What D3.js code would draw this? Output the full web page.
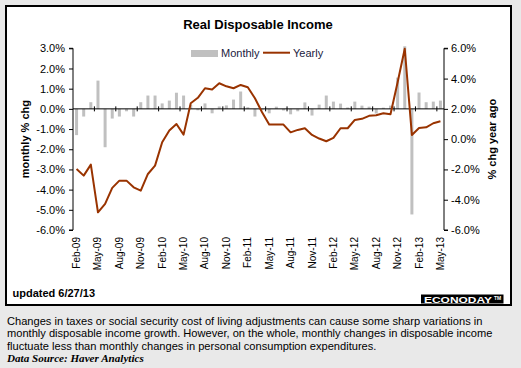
<!DOCTYPE html>
<html>
<head>
<meta charset="utf-8">
<script src="https://cdn.jsdelivr.net/npm/d3@7"></script>
<style>
  body { margin: 0; background: #e9e9e9; }
  svg { display: block; font-family: "Liberation Sans", Arial, sans-serif; }
</style>
</head>
<body>
<svg id="chart" width="521" height="368"></svg>
<script>
// months shown on the chart, Feb-09 .. May-13
const months = [
  "Feb-09","Mar-09","Apr-09","May-09","Jun-09","Jul-09","Aug-09","Sep-09","Oct-09","Nov-09","Dec-09","Jan-10",
  "Feb-10","Mar-10","Apr-10","May-10","Jun-10","Jul-10","Aug-10","Sep-10","Oct-10","Nov-10","Dec-10","Jan-11",
  "Feb-11","Mar-11","Apr-11","May-11","Jun-11","Jul-11","Aug-11","Sep-11","Oct-11","Nov-11","Dec-11","Jan-12",
  "Feb-12","Mar-12","Apr-12","May-12","Jun-12","Jul-12","Aug-12","Sep-12","Oct-12","Nov-12","Dec-12","Jan-13",
  "Feb-13","Mar-13","Apr-13","May-13"
];

// monthly % change (bars, left axis)
const monthly = [
  -1.30, -0.38, 0.33, 1.40, -1.90, -0.48, -0.38, -0.12, -0.38, 0.33, 0.66, 0.66,
  0.27, 0.41, 0.80, 0.66, 0.20, -0.07, 0.27, -0.22, 0.12, 0.17, 0.46, 0.86,
  0.08, -0.38, -0.05, -0.22, 0.11, -0.08, -0.27, -0.12, 0.32, -0.33, 0.21, 0.66,
  0.36, 0.26, 0.07, 0.36, 0.16, 0.11, -0.23, 0.06, 0.16, 1.55, 3.10, -5.23,
  0.81, 0.33, 0.36, 0.41
];

// % change year ago (line, right axis)
const yearly = [
  -1.97, -2.41, -1.68, -4.83, -4.28, -3.22, -2.74, -2.74, -3.18, -3.40, -2.30, -1.75,
  -0.20, 0.57, 1.00, 0.30, 2.37, 2.73, 3.36, 3.28, 3.69, 3.49, 3.36, 3.58,
  3.43, 2.70, 1.78, 0.96, 0.96, 0.96, 0.45, 0.61, 0.72, 0.28, 0.04, -0.14,
  0.08, 0.72, 0.72, 1.27, 1.34, 1.54, 1.58, 1.71, 1.64, 3.76, 5.97, 0.28,
  0.74, 0.78, 1.05, 1.18
];

const leftTicks = [3, 2, 1, 0, -1, -2, -3, -4, -5, -6];
const rightTicks = [6, 4, 2, 0, -2, -4, -6];
const labelMonths = months.filter((m, i) => i % 3 === 0);

const noteLines = [
  "Changes in taxes or social security cost of living adjustments can cause some sharp variations in",
  "monthly disposable income growth. However, on the whole, monthly changes in disposable income",
  "fluctuate less than monthly changes in personal consumption expenditures."
];

const barColor = "#c0c0c0";
const lineColor = "#993300";

const svg = d3.select("#chart");

// plot box
const pLeft = 73, pRight = 444, pTop = 48.3, pBottom = 230;

// white panel with black frame
svg.append("rect")
  .attr("x", 6).attr("y", 6).attr("width", 505).attr("height", 299)
  .attr("fill", "#fff").attr("stroke", "#000").attr("stroke-width", 2);

// scales
const x = d3.scaleBand().domain(months).range([pLeft, pRight])
  .paddingInner(0.58).paddingOuter(0.29);
const step = x.step();
const cx = d => x(d) + x.bandwidth() / 2;
const yL = d3.scaleLinear().domain([-6, 3]).range([pBottom, pTop]);
const yR = d3.scaleLinear().domain([-6, 6]).range([pBottom, pTop]);

// title
svg.append("text")
  .attr("x", 258).attr("y", 29)
  .attr("text-anchor", "middle")
  .attr("font-size", 13).attr("font-weight", "bold")
  .text("Real Disposable Income");

// bars
svg.append("g").selectAll("rect")
  .data(months)
  .join("rect")
  .attr("x", d => x(d))
  .attr("width", x.bandwidth())
  .attr("y", (d, i) => yL(Math.max(0, monthly[i])))
  .attr("height", (d, i) => Math.abs(yL(monthly[i]) - yL(0)))
  .attr("fill", barColor);

// zero line with cross ticks every 3 months
const xAxis = svg.append("g");
xAxis.append("line")
  .attr("x1", pLeft).attr("x2", pRight)
  .attr("y1", yL(0)).attr("y2", yL(0))
  .attr("stroke", "#000");
xAxis.selectAll("line.tk")
  .data(months.filter((m, i) => i > 0 && i % 3 === 0))
  .join("line")
  .attr("class", "tk")
  .attr("x1", d => x(d) + x.bandwidth() / 2 - step / 2)
  .attr("x2", d => x(d) + x.bandwidth() / 2 - step / 2)
  .attr("y1", yL(0) - 2.5).attr("y2", yL(0) + 2.5)
  .attr("stroke", "#000");

// month labels, rotated
svg.append("g").selectAll("text")
  .data(labelMonths)
  .join("text")
  .attr("transform", d => `translate(${cx(d)},237) rotate(-90)`)
  .attr("dy", "0.35em")
  .attr("text-anchor", "end")
  .attr("font-size", 10)
  .text(d => d);

// left axis
const axL = svg.append("g")
  .attr("transform", `translate(${pLeft},0)`)
  .call(d3.axisLeft(yL).tickValues(leftTicks).tickSize(4).tickPadding(4)
    .tickFormat(d => d.toFixed(1) + "%"));
axL.select(".domain").attr("d", `M-4,${pTop}H0V${pBottom}H-4`);
axL.selectAll("text").attr("font-size", 11).attr("font-family", null).attr("fill", "#000");

// right axis
const axR = svg.append("g")
  .attr("transform", `translate(${pRight},0)`)
  .call(d3.axisRight(yR).tickValues(rightTicks).tickSize(4).tickPadding(3)
    .tickFormat(d => d.toFixed(1) + "%"));
axR.select(".domain").attr("d", `M4,${pTop}H0V${pBottom}H4`);
axR.selectAll("text").attr("font-size", 11).attr("font-family", null).attr("fill", "#000");

// axis titles
svg.append("text")
  .attr("transform", `translate(29,${(pTop + pBottom) / 2}) rotate(-90)`)
  .attr("text-anchor", "middle")
  .attr("font-size", 11).attr("font-weight", "bold")
  .text("monthly % chg");
svg.append("text")
  .attr("transform", `translate(496,${(pTop + pBottom) / 2}) rotate(-90)`)
  .attr("text-anchor", "middle")
  .attr("font-size", 11).attr("font-weight", "bold")
  .text("% chg year ago");

// yearly line
const line = d3.line()
  .x((d, i) => cx(months[i]))
  .y(d => yR(d));
svg.append("path")
  .attr("d", line(yearly))
  .attr("fill", "none")
  .attr("stroke", lineColor)
  .attr("stroke-width", 2)
  .attr("stroke-linejoin", "round");

// legend
const lg = svg.append("g").attr("font-size", 11).attr("fill", "#1a1a40");
lg.append("rect").attr("x", 191).attr("y", 50).attr("width", 27).attr("height", 7).attr("fill", barColor);
lg.append("text").attr("x", 221).attr("y", 57).text("Monthly");
lg.append("line").attr("x1", 263).attr("x2", 290).attr("y1", 52.7).attr("y2", 52.7)
  .attr("stroke", lineColor).attr("stroke-width", 2);
lg.append("text").attr("x", 293).attr("y", 57).text("Yearly");

// footer inside panel
svg.append("text")
  .attr("x", 12.5).attr("y", 297)
  .attr("font-size", 11).attr("font-weight", "bold")
  .text("updated 6/27/13");
svg.append("rect")
  .attr("x", 421).attr("y", 294.5).attr("width", 82.5).attr("height", 9)
  .attr("fill", "#000");
svg.append("text")
  .attr("x", 424).attr("y", 302.6)
  .attr("font-size", 9.5).attr("font-weight", "bold").attr("fill", "#fff")
  .attr("textLength", 68).attr("lengthAdjust", "spacingAndGlyphs")
  .text("ECONODAY");
svg.append("text")
  .attr("x", 494).attr("y", 299.5)
  .attr("font-size", 5).attr("font-weight", "bold").attr("fill", "#fff")
  .text("TM");

// note under the panel
svg.append("g").selectAll("text")
  .data(noteLines)
  .join("text")
  .attr("x", 7).attr("y", (d, i) => 325 + i * 12.4)
  .attr("font-size", 11.1)
  .text(d => d);
svg.append("text")
  .attr("x", 7).attr("y", 362)
  .attr("font-family", "'Liberation Serif', 'Times New Roman', serif")
  .attr("font-size", 11.1).attr("font-weight", "bold").attr("font-style", "italic")
  .text("Data Source: Haver Analytics");
</script>
</body>
</html>
